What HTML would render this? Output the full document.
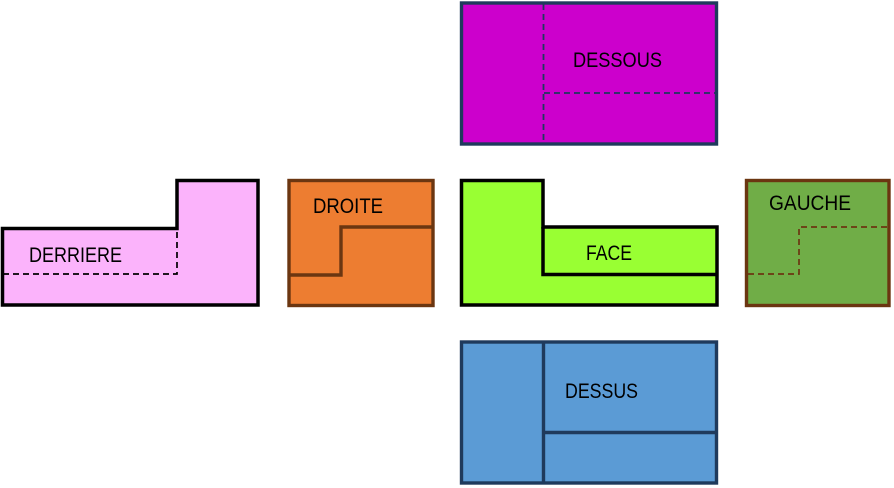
<!DOCTYPE html>
<html><head><meta charset="utf-8"><style>
html,body{margin:0;padding:0;background:#fff;}
svg{display:block;}
text{font-family:"Liberation Sans",sans-serif;font-size:21px;fill:#000;}
</style></head><body>
<svg width="894" height="488" viewBox="0 0 894 488" xmlns="http://www.w3.org/2000/svg">
<!-- DESSOUS -->
<rect x="461.5" y="3" width="255" height="141" fill="#cc00cc" stroke="#1f3a5c" stroke-width="3.4"/>
<line x1="543.5" y1="4" x2="543.5" y2="143" stroke="#1f3a5c" stroke-width="1.8" stroke-dasharray="6,4"/>
<line x1="544" y1="93" x2="715" y2="93" stroke="#1f3a5c" stroke-width="1.8" stroke-dasharray="6,4"/>
<text x="573" y="67" textLength="89" lengthAdjust="spacingAndGlyphs">DESSOUS</text>

<!-- DERRIERE -->
<polygon points="2.5,228.5 177,228.5 177,180.5 258,180.5 258,305 2.5,305" fill="#fbb3fb" stroke="#000" stroke-width="3.5"/>
<polyline points="3,274 177,274 177,229" fill="none" stroke="#000" stroke-width="1.7" stroke-dasharray="6,4"/>
<text x="29" y="262" textLength="93" lengthAdjust="spacingAndGlyphs">DERRIERE</text>

<!-- DROITE -->
<rect x="289" y="180.5" width="144" height="125" fill="#ed7d31" stroke="#6b3611" stroke-width="3.4"/>
<polyline points="289,275 341,275 341,227 433,227" fill="none" stroke="#6b3611" stroke-width="3.4"/>
<text x="313" y="213" textLength="70" lengthAdjust="spacingAndGlyphs">DROITE</text>

<!-- FACE -->
<polygon points="461.5,180.5 543,180.5 543,227 717,227 717,305 461.5,305" fill="#99ff33" stroke="#000" stroke-width="3.5"/>
<polyline points="543,227 543,274.5 717,274.5" fill="none" stroke="#000" stroke-width="3.5"/>
<text x="586" y="260" textLength="46" lengthAdjust="spacingAndGlyphs">FACE</text>

<!-- GAUCHE -->
<rect x="746.5" y="180.5" width="142.5" height="125" fill="#70ad47" stroke="#6b3611" stroke-width="3.4"/>
<polyline points="748,274 799,274 799,227 888,227" fill="none" stroke="#6b3611" stroke-width="1.7" stroke-dasharray="6,4"/>
<text x="769" y="210" textLength="82" lengthAdjust="spacingAndGlyphs">GAUCHE</text>

<!-- DESSUS -->
<rect x="461.5" y="342" width="255" height="141" fill="#5b9bd5" stroke="#1f3a5c" stroke-width="3.4"/>
<line x1="543.5" y1="342" x2="543.5" y2="483" stroke="#1f3a5c" stroke-width="3.4"/>
<line x1="543.5" y1="432.5" x2="716" y2="432.5" stroke="#1f3a5c" stroke-width="3.4"/>
<text x="565" y="398" textLength="73" lengthAdjust="spacingAndGlyphs">DESSUS</text>
</svg>
</body></html>
